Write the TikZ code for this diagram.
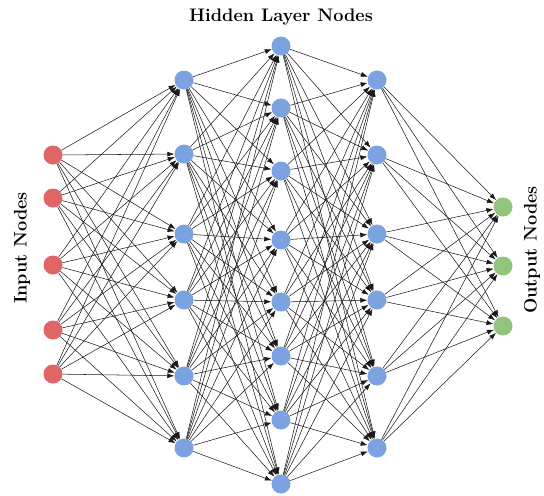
\documentclass[tikz,border=0pt]{standalone}
\usepackage{tikz}
\usetikzlibrary{arrows.meta}

\definecolor{inred}{HTML}{E06666}
\definecolor{hidblue}{HTML}{7BA3E0}
\definecolor{outgreen}{HTML}{93C47D}

\begin{document}
\begin{tikzpicture}[
        x=0.03cm, y=-0.03cm, % pixel grid of the layout
        neuron/.style={circle, minimum size=0.57cm, inner sep=0pt},
        innode/.style={neuron, fill=inred},
        hidnode/.style={neuron, fill=hidblue},
        outnode/.style={neuron, fill=outgreen},
        link/.style={-{Latex[length=2.1mm,width=1.5mm]}, draw=black!90, line width=0.45pt},
        title/.style={font=\fontsize{15.5}{18}\selectfont\bfseries}
    ]
    \useasboundingbox (0,0) rectangle (544,495);

    % input layer
    \foreach \n/\y in {1/155, 2/198, 3/265, 4/330, 5/374}
        \node[innode] (i\n) at (53,\y) {};
    % hidden layers
    \foreach \n/\y in {1/80, 2/154, 3/234, 4/300, 5/376, 6/448}
        \node[hidnode] (a\n) at (184,\y) {};
    \foreach \n/\y in {1/46, 2/108, 3/171, 4/240, 5/302, 6/356, 7/420, 8/484}
        \node[hidnode] (b\n) at (281,\y) {};
    \foreach \n/\y in {1/80, 2/155, 3/234, 4/300, 5/376, 6/448}
        \node[hidnode] (c\n) at (377,\y) {};
    % output layer
    \foreach \n/\y in {1/207, 2/266, 3/326}
        \node[outnode] (o\n) at (503,\y) {};

    % connections
    \foreach \s in {1,...,5}
        \foreach \t in {1,...,6}
            \draw[link] (i\s) -- (a\t);
    \foreach \s in {1,...,6}
        \foreach \t in {1,...,8}
            \draw[link] (a\s) -- (b\t);
    \foreach \s in {1,...,8}
        \foreach \t in {1,...,6}
            \draw[link] (b\s) -- (c\t);
    \foreach \s in {1,...,6}
        \foreach \t in {1,...,3}
            \draw[link] (c\s) -- (o\t);

    % labels
    \node[title] (hidlabel) at (281,17) {Hidden Layer Nodes};
    \node[title, rotate=90] (inlabel) at (22,248) {Input Nodes};
    \node[title, rotate=90] (outlabel) at (532,250) {Output Nodes};
\end{tikzpicture}
\end{document}
